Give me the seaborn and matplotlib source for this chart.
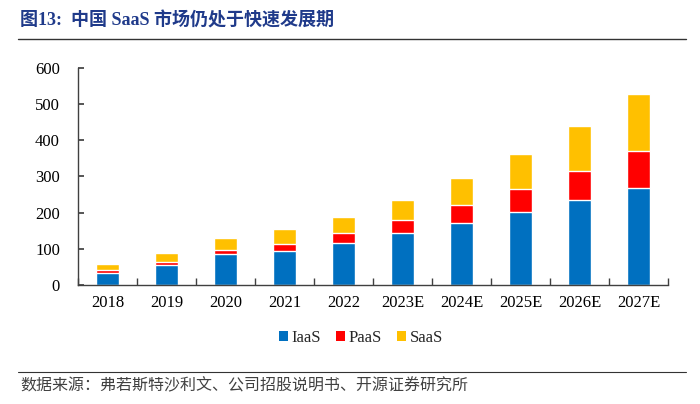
import matplotlib
matplotlib.use("Agg")
import matplotlib.pyplot as plt
from matplotlib.patches import Patch
from matplotlib.lines import Line2D
import numpy as np
import pandas as pd
import seaborn as sns

years = ["2018", "2019", "2020", "2021", "2022",
         "2023E", "2024E", "2025E", "2026E", "2027E"]
iaas = [34, 55, 86, 95, 117, 143, 172, 201, 234, 267]
paas = [7.5, 8, 12, 19, 27, 36, 48, 65, 81, 104]
saas = [15.5, 25, 33, 41, 44, 57, 76, 97, 125, 156]

series_names = ["IaaS", "PaaS", "SaaS"]
colors = {"IaaS": "#0070C0", "PaaS": "#FF0000", "SaaS": "#FFC000"}

title = "图13:  中国 SaaS 市场仍处于快速发展期"
source = "数据来源：弗若斯特沙利文、公司招股说明书、开源证券研究所"


def main():
    sns.set_theme(style="white")
    plt.rcParams["font.family"] = ["Liberation Serif", "Noto Sans CJK SC"]

    fig = plt.figure(figsize=(7, 4.04), dpi=100)
    ax = fig.add_axes([78 / 700, 1 - 285 / 404, 590 / 700, 217 / 404])

    df = pd.DataFrame({"year": years, "IaaS": iaas, "PaaS": paas, "SaaS": saas})
    # stacked bars: draw cumulative totals from the top layer down
    cum = df[series_names].cumsum(axis=1)
    for name in reversed(series_names):
        sns.barplot(x=df["year"], y=cum[name], color=colors[name],
                    width=0.39, saturation=1, ax=ax, zorder=2)

    ax.set_xlim(-0.5, len(years) - 0.5)
    ax.set_ylim(0, 600)
    ax.set_yticks(np.arange(0, 601, 100))
    ax.set_xlabel("")
    ax.set_ylabel("")

    for s in ["top", "right"]:
        ax.spines[s].set_visible(False)
    for s in ["left", "bottom"]:
        ax.spines[s].set_color("#404040")
        ax.spines[s].set_linewidth(1.0)

    ax.tick_params(axis="y", direction="in", length=4, color="#404040",
                   labelsize=12, pad=13, left=True)
    ax.tick_params(axis="x", which="major", length=0, labelsize=12, pad=7)
    ax.set_xticks(np.arange(-0.5, len(years), 1), minor=True)
    ax.tick_params(axis="x", which="minor", direction="in", length=5,
                   color="#404040", bottom=True)
    for lab in ax.get_xticklabels() + ax.get_yticklabels():
        lab.set_color("black")

    handles = [Patch(facecolor=colors[n], edgecolor="none", label=n)
               for n in series_names]
    fig.legend(handles=handles, loc="center", bbox_to_anchor=(361 / 700, 1 - 338 / 404),
               ncol=3, frameon=False, fontsize=12, handlelength=0.55,
               handleheight=0.55, handletextpad=0.2, columnspacing=0.9)

    fig.text(20 / 700, 1 - 20 / 404, title, fontsize=13, fontweight="bold",
             color="#1F3A8A", va="center", ha="left")
    fig.add_artist(Line2D([18 / 700, 686 / 700], [1 - 39 / 404, 1 - 39 / 404],
                          color="#333333", linewidth=1.0))
    fig.add_artist(Line2D([18 / 700, 686 / 700], [1 - 372 / 404, 1 - 372 / 404],
                          color="#333333", linewidth=0.8))
    fig.text(20 / 700, 1 - 386 / 404, source, fontsize=11.5, color="#404040",
             va="center", ha="left")

    fig.savefig("out.png", dpi=100)


if __name__ == "__main__":
    main()
